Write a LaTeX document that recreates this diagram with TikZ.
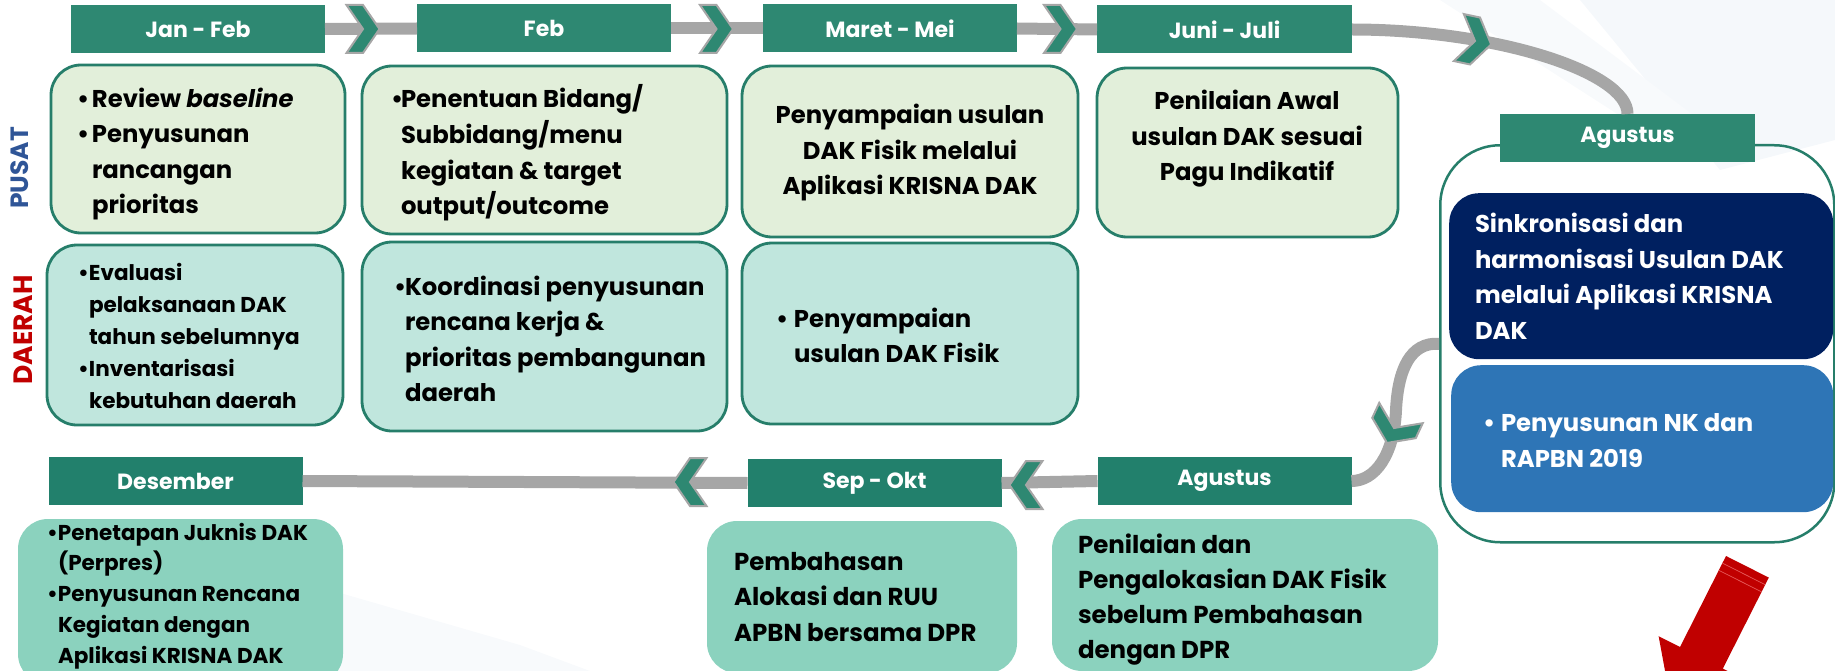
\documentclass[tikz,border=0pt]{standalone}
\usepackage{fontspec}
\setmainfont{Poppins}
\definecolor{hdrA}{RGB}{46,136,114}
\definecolor{hdrB}{RGB}{34,128,108}
\definecolor{bord}{RGB}{38,126,106}
\definecolor{pfill}{RGB}{226,239,218}
\definecolor{dfill}{RGB}{192,230,221}
\definecolor{efill}{RGB}{139,210,190}
\definecolor{navy}{RGB}{0,32,96}
\definecolor{bluebox}{RGB}{46,117,182}
\definecolor{lgray}{RGB}{166,166,166}
\definecolor{pusatc}{RGB}{47,85,151}
\definecolor{darred}{RGB}{192,0,0}
\definecolor{lightred}{RGB}{230,90,90}
\definecolor{bgtint}{RGB}{245,248,251}
\newcommand\myhd{\fontsize{22}{26}\selectfont\bfseries}
\newcommand\mybf{\fontsize{24.3}{35.5}\selectfont\bfseries}
\newcommand\mysm{\fontsize{21.5}{32}\selectfont\bfseries}
\newcommand\fl{\rule{0pt}{1em}}
\newcommand\bl[1]{\makebox[#1][l]{•}}
\newcommand\ix[1]{\hspace*{#1}}
\tikzset{
  hdr/.style={fill=hdrA, text=white, font=\myhd, inner sep=0pt, outer sep=0pt, minimum width=254pt, minimum height=48pt},
  hdrb/.style={hdr, fill=hdrB},
  bx/.style={draw=bord, line width=2.8pt, rounded corners=30pt, inner sep=0pt, outer sep=0pt, anchor=north west},
  pbx/.style={bx, fill=pfill},
  dbx/.style={bx, fill=dfill},
  ebx/.style={fill=efill, rounded corners=30pt, inner sep=0pt, outer sep=0pt, anchor=north west},
  txt/.style={inner sep=0pt, outer sep=0pt, anchor=north west, align=left, font=\mybf},
  ctxt/.style={txt, anchor=north, align=center},
  smtxt/.style={txt, font=\mysm},
  grayline/.style={draw=lgray, line width=12pt},
  chev/.pic={\path[fill=hdrA, draw=lgray, line width=2pt, line join=miter]
     (-16.5,-24) -- (0,-24) -- (16.5,0) -- (0,24) -- (-16.5,24) -- (0,0) -- cycle;}
}
\begin{document}
\begin{tikzpicture}[x=1pt,y=-1pt]
\useasboundingbox (0,0) rectangle (1835,671);
\clip (0,0) rectangle (1835,671);
% faint background
\fill[bgtint] (1580,0) -- (1835,0) -- (1835,140) -- (1720,170) -- cycle;
\fill[bgtint!70] (1440,0) -- (1540,0) -- (1700,120) -- (1650,135) -- cycle;
\fill[bgtint!70] (330,590) -- (520,645) -- (590,671) -- (330,671) -- cycle;

% top headers
\node[hdr] (h1) at (198,29) {Jan - Feb};
\node[hdr] (h2) at (544,28.5) {Feb};
\node[hdr] (h3) at (890,28.5) {Maret - Mei};
\node[hdr, minimum width=255pt] (h4) at (1224.5,29.5) {Juni - Juli};

% right column
\node[draw=bord, line width=2.5pt, rounded corners=60pt, minimum width=394pt, minimum height=397pt, anchor=north west, inner sep=0pt] (ob) at (1439,144) {};
\node[hdr, minimum width=255pt] (ha) at (1627.5,138) {Agustus};
\node[fill=navy, rounded corners=30pt, minimum width=384pt, minimum height=166pt, anchor=north west, inner sep=0pt] (nv) at (1449,193) {};
\node[fill=bluebox, rounded corners=30pt, minimum width=382pt, minimum height=147pt, anchor=north west, inner sep=0pt] (bb) at (1451,365) {};
\node[txt, text=white] (nvt) at (1475,208.5) {\fl Sinkronisasi dan\\harmonisasi Usulan DAK\\melalui Aplikasi KRISNA\\DAK};
\node[txt, text=white] (bbt) at (1483,407.4) {\fl\bl{18pt}Penyusunan NK dan\\\ix{18pt}RAPBN 2019};

% connectors top
\draw[grayline] (h1.east) -- (h2.west);
\draw[grayline] (h2.east) -- (h3.west);
\draw[grayline] (h3.east) -- (h4.west);
\draw[grayline] (h4.east) .. controls (1495,29.5) and (1628,72) .. (ha.north);
\pic at (363,29) {chev};
\pic at (716.5,29) {chev};
\pic at (1060.5,29) {chev};
\pic[rotate=-12] at (1475,41) {chev};

% bottom headers
\node[hdrb] (hb1) at (175.5,481) {Desember};
\node[hdrb] (hb2) at (874.5,483) {Sep - Okt};
\node[hdrb] (hb3) at (1224.5,481) {Agustus};
\draw[grayline] (hb3.west) -- (hb2.east);
\draw[grayline] (hb2.west) -- (hb1.east);
\draw[grayline] (ob.west) .. controls (1410,342) and (1398,370) .. (1396,410)
   .. controls (1394,455) and (1375,481) .. (hb3.east);
\pic[rotate=180] at (690,482) {chev};
\pic[rotate=180] at (1026,485) {chev};
\pic[rotate=-115] at (1394,428) {chev};

% side labels
\node[rotate=90, text=pusatc, font=\fontsize{25}{30}\selectfont\bfseries, inner sep=0pt] (lp) at (20,168) {PUSAT};
\node[rotate=90, text=darred, font=\fontsize{26.5}{30}\selectfont\bfseries, inner sep=0pt] (ld) at (23,330) {DAERAH};

% pusat boxes
\node[pbx, minimum width=294pt, minimum height=168pt] (b1) at (51,65) {};
\node[pbx, minimum width=365pt, minimum height=168pt] (b2) at (362,66) {};
\node[pbx, minimum width=336pt, minimum height=171pt] (b3) at (742,66) {};
\node[pbx, minimum width=301pt, minimum height=169pt] (b4) at (1097,68) {};
\node[txt] (b1t) at (77,82.7) {\fl\bl{15pt}Review \textit{baseline}\\\bl{15pt}Penyusunan\\\ix{15pt}rancangan\\\ix{15pt}prioritas};
\node[txt] (b2t) at (391,83.7) {\fl\bl{10pt}Penentuan Bidang/\\\ix{10pt}Subbidang/menu\\\ix{10pt}kegiatan \& target\\\ix{10pt}output/outcome};
\node[ctxt] (b3t) at (910,99.7) {\fl Penyampaian usulan\\DAK Fisik melalui\\Aplikasi KRISNA DAK};
\node[ctxt] (b4t) at (1247,85.7) {\fl Penilaian Awal\\usulan DAK sesuai\\Pagu Indikatif};

% daerah boxes
\node[dbx, minimum width=296pt, minimum height=180pt] (d1) at (47,245) {};
\node[dbx, minimum width=365pt, minimum height=189pt] (d2) at (362,242) {};
\node[dbx, minimum width=336pt, minimum height=181pt] (d3) at (742,243) {};
\node[smtxt] (d1t) at (78,258.5) {\fl\bl{11pt}Evaluasi\\\ix{11pt}pelaksanaan DAK\\\ix{11pt}tahun sebelumnya\\\bl{11pt}Inventarisasi\\\ix{11pt}kebutuhan daerah};
\node[txt] (d2t) at (394,270.7) {\fl\bl{11pt}Koordinasi penyusunan\\\ix{11pt}rencana kerja \&\\\ix{11pt}prioritas pembangunan\\\ix{11pt}daerah};
\node[txt] (d3t) at (776,302.7) {\fl\bl{18pt}Penyampaian\\\ix{18pt}usulan DAK Fisik};

% bottom boxes
\node[ebx, minimum width=325pt, minimum height=165pt] (e1) at (18,519) {};
\node[ebx, minimum width=310pt, minimum height=152pt] (e2) at (707,521) {};
\node[ebx, minimum width=386pt, minimum height=152pt] (e3) at (1052,519) {};
\node[smtxt, font=\fontsize{21.5}{30.8}\selectfont\bfseries] (e1t) at (47,518.5) {\fl\bl{11pt}Penetapan Juknis DAK\\\ix{11pt}(Perpres)\\\bl{11pt}Penyusunan Rencana\\\ix{11pt}Kegiatan dengan\\\ix{11pt}Aplikasi KRISNA DAK};
\node[txt, font=\fontsize{24.5}{35.7}\selectfont\bfseries] (e2t) at (734,545.5) {\fl Pembahasan\\Alokasi dan RUU\\APBN bersama DPR};
\node[txt, font=\fontsize{24.5}{35}\selectfont\bfseries] (e3t) at (1078,528.5) {\fl Penilaian dan\\Pengalokasian DAK Fisik\\sebelum Pembahasan\\dengan DPR};

% red arrow
\fill[darred] (1726,556) -- (1768.8,577.6) -- (1722.8,668.6) -- (1744.2,679.4) -- (1673,714) -- (1658.6,636.2) -- (1680,647) -- cycle;
\draw[lightred, line width=0.7pt] (1722.4,563.1) -- (1765.2,584.7);
\draw[lightred, line width=0.7pt] (1718.8,570.3) -- (1761.6,591.9);
\end{tikzpicture}
\end{document}
